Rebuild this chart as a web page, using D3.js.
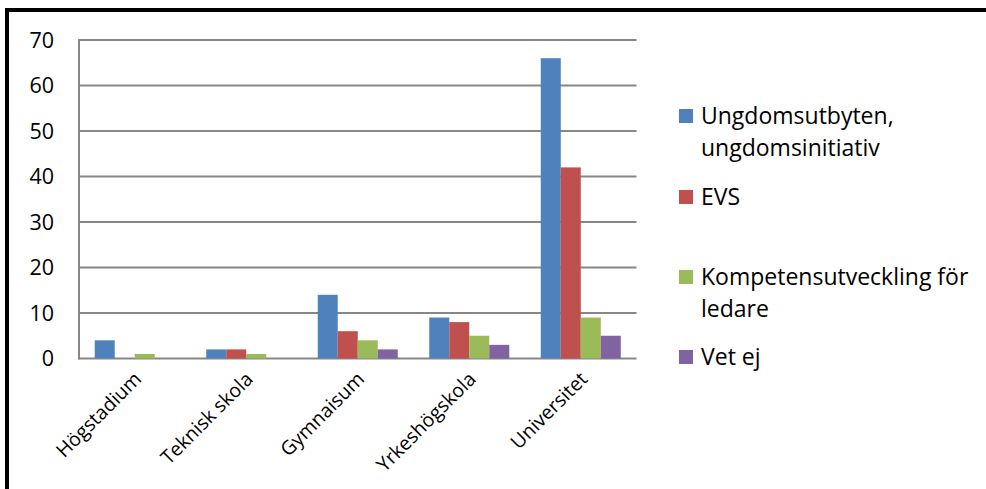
<!DOCTYPE html>
<html><head><meta charset="utf-8">
<script src="https://cdn.jsdelivr.net/npm/d3@7"></script>
<style>body{margin:0;background:#fff}svg{display:block}</style>
</head><body><svg id="c" width="986" height="489"></svg>
<script>
const categories = ["Högstadium","Teknisk skola","Gymnaisum","Yrkeshögskola","Universitet"];
const seriesNames = [["Ungdomsutbyten,","ungdomsinitiativ"],["EVS"],["Kompetensutveckling för","ledare"],["Vet ej"]];
const ungdom = [4,2,14,9,66];
const evs = [0,2,6,8,42];
const kompetens = [1,1,4,5,9];
const vetej = [0,0,2,3,5];
const yTicks = [0,10,20,30,40,50,60,70];
const colors = ["#4F81BD","#C0504D","#9BBB59","#8064A2"];
const series = [ungdom, evs, kompetens, vetej];

const svg = d3.select("#c");
const font = "'Open Sans', sans-serif";
// border
svg.append("rect").attr("x",7).attr("y",10).attr("width",990).attr("height",500)
  .attr("fill","none").attr("stroke","#000").attr("stroke-width",4);

const L=79, R=636.5, T=40, B=358.5;
const x = d3.scaleBand().domain(categories).range([L,R]).paddingInner(0.2825).paddingOuter(0.141);
const x0 = d3.scaleBand().domain(categories).range([L,R]);
const xs = d3.scaleBand().domain(d3.range(4)).range([0,x.bandwidth()]);
const y = d3.scaleLinear().domain([0,70]).range([B,T]);

const g = svg.append("g");
// gridlines
g.selectAll("line.grid").data(yTicks).join("line").attr("class","grid")
  .attr("x1",L).attr("x2",R).attr("y1",d=>y(d)).attr("y2",d=>y(d))
  .attr("stroke","#878787").attr("stroke-width",2);
g.append("line").attr("x1",L).attr("x2",L).attr("y1",T-1).attr("y2",B+1)
  .attr("stroke","#878787").attr("stroke-width",2);
// y labels
g.selectAll("text.yt").data(yTicks).join("text").attr("class","yt")
  .attr("x",54).attr("y",d=>y(d)).attr("dy","0.36em").attr("text-anchor","end")
  .attr("font-family",font).attr("font-size",21.5).attr("fill","#000").text(d=>d);

// bars
series.forEach((vals,si)=>{
  g.selectAll("rect.s"+si).data(vals).join("rect").attr("class","s"+si)
    .attr("x",(d,i)=>x(categories[i])+xs(si))
    .attr("width",xs.bandwidth())
    .attr("y",d=>y(d)).attr("height",d=>B-y(d))
    .attr("fill",colors[si]);
});

// x labels
g.selectAll("text.xt").data(categories).join("text").attr("class","xt")
  .attr("transform",d=>`translate(${x0(d)+x0.bandwidth()/2+3},${B+17}) rotate(-45)`)
  .attr("text-anchor","end").attr("dy","0.35em")
  .attr("font-family",font).attr("font-size",19.5).attr("fill","#000").text(d=>d);

// legend
const legY = [116,197,277,357];
seriesNames.forEach((lines,i)=>{
  svg.append("rect").attr("x",679).attr("y",legY[i]-7).attr("width",14).attr("height",14).attr("fill",colors[i]);
  const t = svg.append("text").attr("x",701).attr("y",legY[i])
    .attr("font-family",font).attr("font-size",23).attr("fill","#000");
  lines.forEach((ln,j)=>t.append("tspan").attr("x",701).attr("dy",j===0?"0.36em":32).text(ln));
});
</script></body></html>
